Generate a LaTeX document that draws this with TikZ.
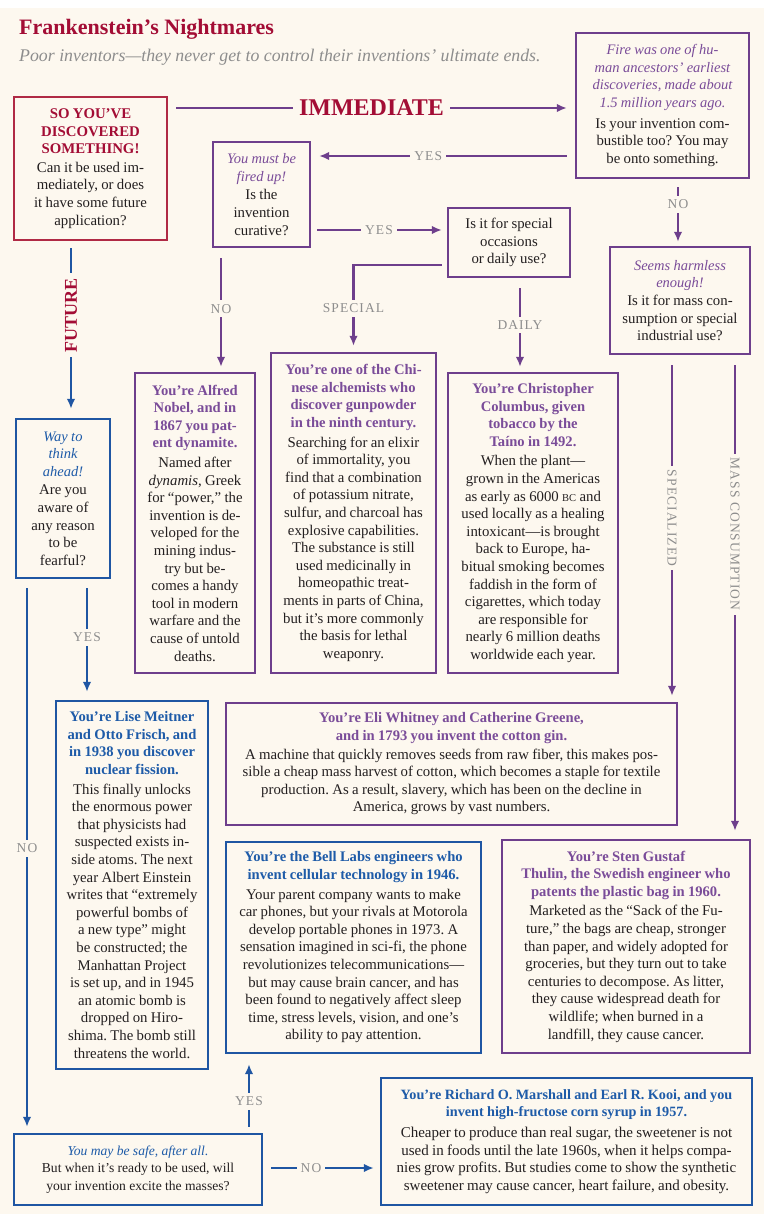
\documentclass[tikz,border=0pt]{standalone}
\usepackage{fontspec}
\setmainfont{Liberation Serif}
\newfontfamily\lblfamily[LetterSpace=8]{Liberation Serif}
\usetikzlibrary{arrows.meta,calc}
\frenchspacing
\definecolor{cream}{HTML}{FDF8EF}
\definecolor{pur}{HTML}{6E3F8C}
\definecolor{purt}{HTML}{7A4C99}
\definecolor{blu}{HTML}{1F56A3}
\definecolor{blut}{HTML}{1E5BA8}
\definecolor{titred}{HTML}{A30D35}
\definecolor{redb}{HTML}{B02A45}
\definecolor{ink}{HTML}{231F20}
\definecolor{lgrey}{HTML}{8D8D8D}
\newcommand\hfont{\fontsize{14.6}{17.6}\selectfont\bfseries}
\newcommand\bfont{\fontsize{14.8}{17.6}\selectfont}
\newcommand\ifont{\fontsize{14.5}{17.6}\selectfont\itshape}
\newcommand\cfont{\fontsize{13.6}{17.2}\selectfont}
\newcommand\lblf{\fontsize{13.5}{14}\selectfont\lblfamily}
\tikzset{
  box/.style={draw, line width=2.3pt, fill=cream, inner sep=0pt},
  pbox/.style={box, draw=pur},
  bbox/.style={box, draw=blu},
  rbox/.style={box, draw=redb},
  txt/.style={text width=420pt, align=center, inner sep=0pt, text=ink},
  conn/.style={line width=2.3pt, -{Latex[length=10pt,width=8.5pt]}},
  pl/.style={conn, draw=pur},
  bl/.style={conn, draw=blu},
  lbl/.style={fill=cream, text=lgrey, font=\lblf, inner sep=4pt},
}
\begin{document}
\begin{tikzpicture}[x=1pt,y=-1pt]
\useasboundingbox (0,0) rectangle (772,1222);
\path[fill=white] (0,0) rectangle (772,1222);
\path[fill=cream] (0,8) rectangle (764,1214);

% title
\node[anchor=base west, text=titred, font=\fontsize{22}{26}\selectfont\bfseries, inner sep=0pt] (title) at (19,35) {Frankenstein’s Nightmares};
\node[anchor=base west, text=lgrey, font=\fontsize{17.8}{20}\selectfont\itshape, inner sep=0pt] (sub) at (19,62) {Poor inventors—they never get to control their inventions’ ultimate ends.};

% boxes
\node[rbox, minimum width=153pt, minimum height=143pt] (start) at (90.5,168.5) {};
\node[pbox, minimum width=173pt, minimum height=145pt] (fire) at (662.5,105.5) {};
\node[pbox, minimum width=97pt, minimum height=105pt] (cur) at (261.5,194.5) {};
\node[pbox, minimum width=122pt, minimum height=69pt] (spec) at (509,242.5) {};
\node[pbox, minimum width=140pt, minimum height=107pt] (harm) at (680,300.5) {};
\node[pbox, minimum width=120pt, minimum height=300pt] (nobel) at (195,523) {};
\node[pbox, minimum width=165pt, minimum height=320pt] (chin) at (353.5,513) {};
\node[pbox, minimum width=170pt, minimum height=300pt] (col) at (533,523) {};
\node[bbox, minimum width=94pt, minimum height=159pt] (way) at (63,498.5) {};
\node[bbox, minimum width=152pt, minimum height=368pt] (meit) at (132,885) {};
\node[pbox, minimum width=451pt, minimum height=122pt] (eli) at (451.5,764) {};
\node[bbox, minimum width=255pt, minimum height=211pt] (bell) at (353.5,947.5) {};
\node[pbox, minimum width=248pt, minimum height=213pt] (sten) at (626,946.5) {};
\node[bbox, minimum width=248pt, minimum height=71pt] (safe) at (138,1169.5) {};
\node[bbox, minimum width=371pt, minimum height=127pt] (mars) at (566.5,1141.5) {};

% texts
\node[txt] (start-t) at (start) {{\color{titred}\fontsize{14.8}{17.6}\selectfont\bfseries SO YOU’VE\\DISCOVERED\\SOMETHING!\par}\vspace{1pt}{\bfont Can it be used im-\\mediately, or does\\it have some future\\application?\par}};
\node[txt] (fire-t) at (fire) {{\color{purt}\ifont Fire was one of hu-\\man ancestors’ earliest\\discoveries, made about\\1.5 million years ago.\par}\vspace{3pt}{\bfont Is your invention com-\\bustible too? You may\\be onto something.\par}};
\node[txt] (cur-t) at (cur) {{\color{purt}\ifont You must be\\fired up!\par}\vspace{1pt}{\bfont Is the\\invention\\curative?\par}};
\node[txt] (spec-t) at (spec) {{\bfont Is it for special\\occasions\\or daily use?\par}};
\node[txt] (harm-t) at (harm) {{\color{purt}\ifont Seems harmless\\enough!\par}{\bfont Is it for mass con-\\sumption or special\\industrial use?\par}};
\node[txt] (nobel-t) at (nobel) {{\color{purt}\hfont You’re Alfred\\Nobel, and in\\1867 you pat-\\ent dynamite.\par}\vspace{2pt}{\bfont Named after\\ \textit{dynamis}, Greek\\for “power,” the\\invention is de-\\veloped for the\\mining indus-\\try but be-\\comes a handy\\tool in modern\\warfare and the\\cause of untold\\deaths.\par}};
\node[txt] (chin-t) at (chin) {{\color{purt}\hfont You’re one of the Chi-\\nese alchemists who\\discover gunpowder\\in the ninth century.\par}\vspace{2pt}{\bfont Searching for an elixir\\of immortality, you\\find that a combination\\of potassium nitrate,\\sulfur, and charcoal has\\explosive capabilities.\\The substance is still\\used medicinally in\\homeopathic treat-\\ments in parts of China,\\but it’s more commonly\\the basis for lethal\\weaponry.\par}};
\node[txt] (col-t) at (col) {{\color{purt}\hfont You’re Christopher\\Columbus, given\\tobacco by the\\Taíno in 1492.\par}\vspace{2pt}{\bfont When the plant—\\grown in the Americas\\as early as 6000 {\fontsize{10.5}{10}\selectfont BC} and\\used locally as a healing\\intoxicant—is brought\\back to Europe, ha-\\bitual smoking becomes\\faddish in the form of\\cigarettes, which today\\are responsible for\\nearly 6 million deaths\\worldwide each year.\par}};
\node[txt] (way-t) at (way) {{\color{blut}\ifont Way to\\think\\ahead!\par}\vspace{1pt}{\bfont Are you\\aware of\\any reason\\to be\\fearful?\par}};
\node[txt] (meit-t) at (meit) {{\color{blut}\hfont You’re Lise Meitner\\and Otto Frisch, and\\in 1938 you discover\\nuclear fission.\par}\vspace{2pt}{\bfont This finally unlocks\\the enormous power\\that physicists had\\suspected exists in-\\side atoms. The next\\year Albert Einstein\\writes that “extremely\\powerful bombs of\\a new type” might\\be constructed; the\\Manhattan Project\\is set up, and in 1945\\an atomic bomb is\\dropped on Hiro-\\shima. The bomb still\\threatens the world.\par}};
\node[txt] (eli-t) at (eli) {{\color{purt}\hfont You’re Eli Whitney and Catherine Greene,\\and in 1793 you invent the cotton gin.\par}\vspace{1pt}{\bfont A machine that quickly removes seeds from raw fiber, this makes pos-\\sible a cheap mass harvest of cotton, which becomes a staple for textile\\production. As a result, slavery, which has been on the decline in\\America, grows by vast numbers.\par}};
\node[txt] (bell-t) at (bell) {{\color{blut}\hfont You’re the Bell Labs engineers who\\invent cellular technology in 1946.\par}\vspace{2pt}{\bfont Your parent company wants to make\\car phones, but your rivals at Motorola\\develop portable phones in 1973. A\\sensation imagined in sci-fi, the phone\\revolutionizes telecommunications—\\but may cause brain cancer, and has\\been found to negatively affect sleep\\time, stress levels, vision, and one’s\\ability to pay attention.\par}};
\node[txt] (sten-t) at (sten) {{\color{purt}\hfont You’re Sten Gustaf\\Thulin, the Swedish engineer who\\patents the plastic bag in 1960.\par}\vspace{2pt}{\bfont Marketed as the “Sack of the Fu-\\ture,” the bags are cheap, stronger\\than paper, and widely adopted for\\groceries, but they turn out to take\\centuries to decompose. As litter,\\they cause widespread death for\\wildlife; when burned in a\\landfill, they cause cancer.\par}};
\node[txt] (safe-t) at (safe) {{\color{blut}\cfont\itshape You may be safe, after all.\par}{\cfont But when it’s ready to be used, will\\your invention excite the masses?\par}};
\node[txt] (mars-t) at (mars) {{\color{blut}\fontsize{14.2}{17.4}\selectfont\bfseries You’re Richard O. Marshall and Earl R. Kooi, and you\\invent high-fructose corn syrup in 1957.\par}\vspace{3pt}{\fontsize{15}{17.6}\selectfont Cheaper to produce than real sugar, the sweetener is not\\used in foods until the late 1960s, when it helps compa-\\nies grow profits. But studies come to show the synthetic\\sweetener may cause cancer, heart failure, and obesity.\par}};

% helper coordinates
\coordinate (yImm) at (0,108);
\coordinate (yY1) at (0,156);
\coordinate (yY2) at (0,230);
\coordinate (ySp) at (0,265);
\coordinate (yNo2) at (0,1168);
\coordinate (xNo1) at (221,0);
\coordinate (xDa) at (520,0);
\coordinate (xNo0) at (678,0);
\coordinate (xSz) at (672,0);
\coordinate (xMc) at (735,0);
\coordinate (xFu) at (71,0);
\coordinate (xY3) at (87,0);
\coordinate (xNo3) at (27,0);
\coordinate (xY4) at (249,0);

% connectors
\draw[pl, shorten <=8pt, shorten >=8pt] (start.east |- yImm) -- node[pos=0.5, fill=cream, text=titred, font=\fontsize{24}{26}\selectfont\bfseries, inner sep=6pt] (immlbl) {IMMEDIATE} (fire.west |- yImm);
\draw[pl, shorten <=8pt, shorten >=8pt] (fire.west |- yY1) -- node[lbl, pos=0.556] (yes1) {YES} (cur.east |- yY1);
\draw[pl, shorten <=6pt, shorten >=5pt] (cur.east |- yY2) -- node[lbl, pos=0.5] (yes2) {YES} (spec.west |- yY2);
\draw[pl, shorten <=10pt, shorten >=5pt] (cur.south -| xNo1) -- node[lbl, pos=0.49] (no1) {NO} (nobel.north -| xNo1);
\draw[pl, shorten <=5pt, shorten >=6pt] (spec.west |- ySp) -| node[lbl, pos=0.75] (special) {SPECIAL} (chin.north);
\draw[pl, shorten <=10pt, shorten >=5pt] (spec.south -| xDa) -- node[lbl, pos=0.5] (daily) {DAILY} (col.north -| xDa);
\draw[pl, shorten <=8pt, shorten >=4pt] (fire.south -| xNo0) -- node[lbl, pos=0.38] (no0) {NO} (harm.north -| xNo0);
\draw[pl, shorten <=10pt, shorten >=6pt] (harm.south -| xSz) -- node[lbl, pos=0.47, rotate=-90] (spz) {SPECIALIZED} (eli.north -| xSz);
\draw[pl, shorten <=10pt, shorten >=8pt] (harm.south -| xMc) -- node[lbl, pos=0.37, rotate=-90] (mass) {MASS CONSUMPTION} (sten.north -| xMc);
\draw[bl, shorten <=7pt, shorten >=9pt] (start.south -| xFu) -- node[pos=0.42, rotate=90, fill=cream, text=titred, font=\fontsize{18}{20}\selectfont\bfseries, inner sep=5pt] (future) {FUTURE} (way.north -| xFu);
\draw[bl, shorten <=9pt, shorten >=8pt] (way.south -| xY3) -- node[lbl, pos=0.48] (yes3) {YES} (meit.north -| xY3);
\draw[bl, shorten <=9pt, shorten >=6pt] (way.south -| xNo3) -- node[lbl, pos=0.486] (no3) {NO} (safe.north -| xNo3);
\draw[bl, shorten <=6pt, shorten >=10pt] (safe.north -| xY4) -- node[lbl, pos=0.4] (yes4) {YES} (bell.south -| xY4);
\draw[bl, shorten <=8pt, shorten >=6pt] (safe.east |- yNo2) -- node[lbl, pos=0.41] (no4) {NO} (mars.west |- yNo2);
\end{tikzpicture}
\end{document}
